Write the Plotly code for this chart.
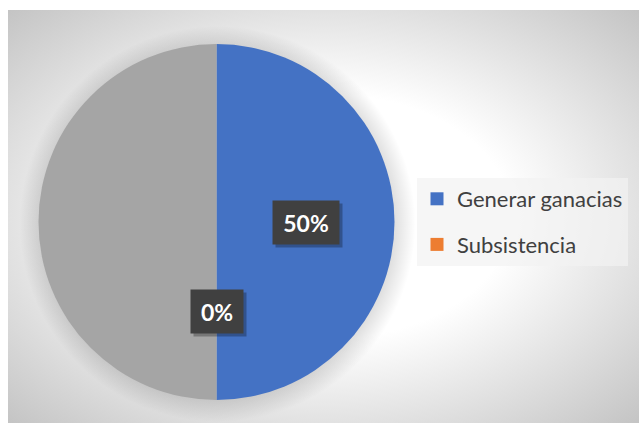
import math
import numpy as np
import plotly.graph_objects as go

W, H = 639, 430

# ---- data ----
categories = ["Generar ganacias", "Subsistencia", ""]
values = [1, 0, 1]
colors = ["#4472C4", "#ED7D31", "#A5A5A5"]
legend_items = ["Generar ganacias", "Subsistencia"]
labelled = [0, 1]          # slices that carry a percentage label

# ---- geometry (pixels) ----
AREA = dict(x0=8, x1=639, y0=10, y1=423)     # chart area
CX, CY, R = 216.5, 222.0, 178.0              # pie centre / radius

fig = go.Figure()

# chart-area radial gradient (bbox enlarged so the outer colour reaches the corners)
bx, by = (AREA["x0"] + AREA["x1"]) / 2, (AREA["y0"] + AREA["y1"]) / 2
hw = (AREA["x1"] - AREA["x0"]) / 2 * math.sqrt(2)
hh = (AREA["y1"] - AREA["y0"]) / 2 * math.sqrt(2)
fig.add_trace(go.Scatter(
    x=[bx - hw, bx + hw, bx + hw, bx - hw, bx - hw],
    y=[by - hh, by - hh, by + hh, by + hh, by - hh],
    mode="none", fill="toself",
    fillgradient=dict(type="radial",
                      colorscale=[[0, "#ffffff"], [0.42, "#ffffff"], [1, "#c4c4c4"]]),
    showlegend=False, hoverinfo="skip"))

# soft shadow behind the pie
t = np.linspace(0, 2 * np.pi, 240)
rs = R + 20
fig.add_trace(go.Scatter(
    x=CX + 1 + rs * np.cos(t), y=CY + 2 + rs * np.sin(t),
    mode="none", fill="toself",
    fillgradient=dict(type="radial",
                      colorscale=[[0, "rgba(0,0,0,0.25)"], [0.88, "rgba(0,0,0,0.14)"],
                                  [1, "rgba(0,0,0,0)"]]),
    showlegend=False, hoverinfo="skip"))

# pie
fig.add_trace(go.Pie(
    labels=categories, values=values, sort=False, direction="clockwise",
    rotation=0, marker=dict(colors=colors), textinfo="none",
    showlegend=False, hoverinfo="label+percent",
    domain=dict(x=[(CX - R) / W, (CX + R) / W],
                y=[1 - (CY + R) / H, 1 - (CY - R) / H])))

# legend entries
for name in legend_items:
    i = categories.index(name)
    fig.add_trace(go.Scatter(
        x=[None], y=[None], mode="markers", name=name, legendgroup=name,
        marker=dict(symbol="square", size=13, color=colors[i])))

# percentage labels placed at half radius on each slice's mid-angle
total = sum(values)
start = 0.0
for i, v in enumerate(values):
    frac = v / total
    theta = 2 * math.pi * (start + frac / 2)
    start += frac
    if i not in labelled:
        continue
    lx = CX + 0.5 * R * math.sin(theta)
    ly = CY - 0.5 * R * math.cos(theta)
    txt = f"{round(frac * 100)}%"
    bw = 22 + 14 * len(txt)
    # drop shadow box, then the label box on top
    fig.add_annotation(
        x=lx, y=ly, xref="x", yref="y", text="\u00a0", showarrow=False,
        width=bw, height=41, xshift=3, yshift=-3,
        bgcolor="rgba(0,0,0,0.28)", font=dict(size=23))
    fig.add_annotation(
        x=lx, y=ly, xref="x", yref="y", text=txt, showarrow=False,
        width=bw, height=41, bgcolor="#404040",
        font=dict(family="Lato", size=23, color="#ffffff", weight="bold"))

fig.update_layout(
    width=W, height=H, margin=dict(l=0, r=0, t=0, b=0),
    paper_bgcolor="#ffffff", plot_bgcolor="rgba(0,0,0,0)",
    xaxis=dict(visible=False, range=[AREA["x0"], AREA["x1"]],
               domain=[AREA["x0"] / W, AREA["x1"] / W], fixedrange=True),
    yaxis=dict(visible=False, range=[AREA["y1"], AREA["y0"]],
               domain=[1 - AREA["y1"] / H, 1 - AREA["y0"] / H], fixedrange=True),
    legend=dict(x=417 / W, y=1 - 178 / H, xanchor="left", yanchor="top",
                bgcolor="rgba(242,242,242,0.7)", tracegroupgap=14,
                font=dict(family="Lato", size=22, color="#404040")),
    showlegend=True,
)

fig.write_html("out.html")
